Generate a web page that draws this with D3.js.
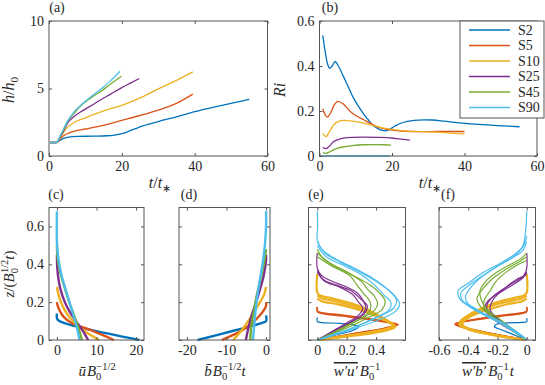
<!DOCTYPE html>
<html>
<head>
<meta charset="utf-8">
<script src="https://cdn.jsdelivr.net/npm/d3@7"></script>
<style>
  body { margin: 0; background: #fff; }
</style>
</head>
<body>
<svg id="fig" width="545" height="385"></svg>
<script>
const serif = "'Liberation Serif', 'Times New Roman', serif";

// cases
const caseNames = ["S2", "S5", "S10", "S25", "S45", "S90"];
const caseColors = ["#0072BD", "#D95319", "#EDB120", "#7E2F8E", "#77AC30", "#4DBEEE"];

// (a) h/h0 vs t/t*
const hTime = [
  [0.3, 2, 3, 4, 5, 8, 12, 16, 18, 20, 23, 26, 30, 35, 40, 45, 50, 55],
  [0.3, 2, 3, 4, 5, 7, 10, 13, 16, 20, 25, 30, 35, 39.5],
  [0.3, 2, 3, 4, 5, 7, 9.4, 12, 15, 20, 25, 29.6, 35, 39.5],
  [0.3, 2, 3, 4, 5, 7, 9.4, 12, 14, 17, 20, 22.5, 24.8],
  [0.3, 2, 3, 4, 5, 7, 9.4, 12, 14, 17, 19.9],
  [0.3, 2, 3, 4, 5, 7, 9.4, 12, 14, 17, 19.5]
];
const hVal = [
  [1, 1, 1.15, 1.3, 1.38, 1.45, 1.47, 1.5, 1.55, 1.65, 1.95, 2.25, 2.55, 2.9, 3.28, 3.6, 3.9, 4.2],
  [1, 1, 1.25, 1.5, 1.65, 1.85, 2.0, 2.15, 2.35, 2.64, 3.0, 3.4, 3.9, 4.58],
  [1, 1, 1.3, 1.75, 2.1, 2.5, 2.77, 3.05, 3.35, 3.75, 4.3, 4.92, 5.6, 6.23],
  [1, 1, 1.35, 1.85, 2.4, 2.95, 3.38, 3.8, 4.13, 4.6, 5.07, 5.42, 5.74],
  [1, 1, 1.4, 1.95, 2.5, 3.2, 3.88, 4.4, 4.74, 5.35, 5.91],
  [1, 1, 1.45, 2.0, 2.55, 3.3, 3.93, 4.5, 4.9, 5.6, 6.28]
];

// (b) Ri vs t/t*
const riTime = [
  [0.9, 1.5, 2.2, 2.9, 3.5, 4.3, 5.2, 6.6, 8, 9.4, 11, 12.2, 13.5, 14.5, 15.8, 17, 18.1, 19.5, 21, 23.2, 26, 28.7, 31, 34.3, 38, 41.6, 45, 49, 52, 55.2],
  [0.9, 1.5, 2.2, 3, 4, 5.1, 6.5, 8.5, 10, 12.2, 14, 15.8, 17.5, 19.5, 23.2, 28, 32.4, 36, 40],
  [0.9, 1.8, 2.8, 3.9, 5, 6.6, 9, 12.2, 15, 17.7, 20, 23.2, 28, 32.4, 36, 40],
  [0.9, 1.8, 2.8, 3.9, 5, 6.6, 9, 12, 16, 20, 22, 24.9],
  [0.9, 1.8, 3, 4.8, 6.5, 9, 12, 15, 18, 19.7],
  [0.5, 10, 19.5]
];
const riVal = [
  [0.536, 0.47, 0.41, 0.39, 0.40, 0.42, 0.40, 0.354, 0.305, 0.257, 0.215, 0.186, 0.16, 0.14, 0.125, 0.115, 0.112, 0.12, 0.135, 0.15, 0.158, 0.161, 0.16, 0.155, 0.148, 0.143, 0.139, 0.135, 0.133, 0.13],
  [0.21, 0.185, 0.173, 0.19, 0.225, 0.243, 0.232, 0.198, 0.18, 0.161, 0.145, 0.131, 0.122, 0.116, 0.11, 0.108, 0.109, 0.109, 0.109],
  [0.10, 0.086, 0.11, 0.138, 0.152, 0.158, 0.155, 0.146, 0.135, 0.124, 0.118, 0.112, 0.108, 0.106, 0.102, 0.098],
  [0.037, 0.033, 0.045, 0.064, 0.072, 0.079, 0.083, 0.084, 0.083, 0.08, 0.076, 0.071],
  [0.015, 0.012, 0.02, 0.034, 0.04, 0.046, 0.05, 0.051, 0.05, 0.048],
  [0, 0, 0]
];

// (c) mean velocity profiles [u, z]
const uProf = [
  [[20.8, 0], [0.6, 0.1], [0, 0.115], [0, 0.14]],
  [[14.4, 0], [8.4, 0.053], [3.7, 0.09], [1.6, 0.125], [0.7, 0.155], [0.2, 0.18], [0, 0.2]],
  [[10.7, 0], [7.5, 0.04], [4.5, 0.09], [2.5, 0.14], [1.2, 0.19], [0.4, 0.24], [0, 0.28]],
  [[7.9, 0], [6.5, 0.05], [4.8, 0.1], [3.2, 0.15], [2, 0.2], [1.0, 0.26], [0.4, 0.32], [0.1, 0.38], [0, 0.45]],
  [[6.3, 0], [5.5, 0.06], [4.5, 0.12], [3.3, 0.19], [2.2, 0.26], [1.2, 0.33], [0.5, 0.39], [0.1, 0.45], [0, 0.5]],
  [[5.7, 0], [5.1, 0.06], [4.3, 0.12], [3.3, 0.19], [2.3, 0.26], [1.3, 0.33], [0.6, 0.4], [0.2, 0.46], [0, 0.52], [0, 0.68]]
];

// (d) mean buoyancy profiles [b, z]
const bProf = [
  [[-17.3, 0], [-8, 0.05], [-1, 0.09], [0, 0.1], [0, 0.13]],
  [[-11.2, 0], [-7, 0.04], [-4, 0.08], [-2, 0.12], [-0.8, 0.15], [0, 0.18], [0, 0.2]],
  [[-8.3, 0], [-6.2, 0.05], [-4.5, 0.1], [-3, 0.15], [-1.5, 0.2], [-0.5, 0.24], [0, 0.28]],
  [[-5.1, 0], [-4.4, 0.07], [-3.5, 0.14], [-2.5, 0.2], [-1.5, 0.27], [-0.6, 0.34], [0, 0.42], [0, 0.45]],
  [[-4.0, 0], [-3.7, 0.08], [-3.1, 0.15], [-2.3, 0.24], [-1.3, 0.33], [-0.4, 0.42], [0, 0.48]],
  [[-3.3, 0], [-2.9, 0.1], [-2.4, 0.2], [-1.7, 0.3], [-0.9, 0.4], [-0.3, 0.5], [0, 0.6], [0, 0.68]]
];

// (e) momentum flux profiles, several snapshots per case [value, z]
const wuProf = [
  [
    [[0, 0.12], [0, 0.097], [0.03, 0.092], [0.15, 0.088], [0.24, 0.08], [0.28, 0.07], [0.24, 0.05], [0.12, 0.025], [0, 0]]
  ],
  [
    [[0, 0.175], [0, 0.152], [0.03, 0.143], [0.15, 0.133], [0.3, 0.118], [0.42, 0.103], [0.51, 0.09], [0.55, 0.08], [0.46, 0.06], [0.3, 0.04], [0.12, 0.015], [0, 0]],
    [[0, 0.148], [0.05, 0.138], [0.2, 0.125], [0.35, 0.108], [0.47, 0.094], [0.53, 0.08], [0.42, 0.055], [0.22, 0.028], [0, 0]]
  ],
  [
    [[0, 0.35], [0, 0.25], [0.02, 0.235], [0.1, 0.22], [0.2, 0.2], [0.3, 0.175], [0.38, 0.145], [0.45, 0.115], [0.5, 0.088], [0.51, 0.07], [0.4, 0.047], [0.2, 0.022], [0, 0]],
    [[0, 0.235], [0.03, 0.22], [0.12, 0.205], [0.22, 0.185], [0.32, 0.16], [0.41, 0.13], [0.48, 0.1], [0.52, 0.08], [0.46, 0.055], [0.26, 0.027], [0, 0]],
    [[0, 0.22], [0.03, 0.205], [0.13, 0.19], [0.24, 0.17], [0.34, 0.145], [0.43, 0.115], [0.5, 0.088], [0.53, 0.07], [0.44, 0.045], [0.22, 0.02], [0, 0]]
  ],
  [
    [[0, 0.46], [0, 0.38], [0.03, 0.34], [0.1, 0.31], [0.2, 0.28], [0.27, 0.25], [0.31, 0.21], [0.33, 0.17], [0.3, 0.13], [0.22, 0.09], [0.12, 0.05], [0.04, 0.015], [0, 0]],
    [[0, 0.37], [0.04, 0.32], [0.13, 0.29], [0.23, 0.26], [0.29, 0.22], [0.34, 0.18], [0.32, 0.14], [0.24, 0.1], [0.13, 0.055], [0, 0]],
    [[0, 0.36], [0.05, 0.31], [0.15, 0.28], [0.24, 0.24], [0.28, 0.2], [0.31, 0.17], [0.28, 0.13], [0.2, 0.09], [0.1, 0.045], [0, 0]]
  ],
  [
    [[0, 0.48], [0.04, 0.43], [0.14, 0.38], [0.27, 0.33], [0.36, 0.29], [0.42, 0.25], [0.46, 0.21], [0.44, 0.16], [0.35, 0.12], [0.22, 0.07], [0.09, 0.03], [0, 0]],
    [[0, 0.46], [0.08, 0.41], [0.2, 0.36], [0.3, 0.31], [0.34, 0.27], [0.39, 0.23], [0.41, 0.19], [0.38, 0.15], [0.29, 0.11], [0.17, 0.06], [0.06, 0.02], [0, 0]],
    [[0, 0.44], [0.1, 0.39], [0.22, 0.34], [0.27, 0.29], [0.31, 0.25], [0.36, 0.2], [0.36, 0.16], [0.31, 0.12], [0.21, 0.08], [0.1, 0.035], [0, 0]]
  ],
  [
    [[0, 0.68], [0.002, 0.6], [0, 0.53], [0.03, 0.48], [0.12, 0.43], [0.25, 0.38], [0.37, 0.33], [0.46, 0.28], [0.53, 0.23], [0.56, 0.19], [0.53, 0.15], [0.43, 0.11], [0.29, 0.07], [0.13, 0.03], [0, 0]],
    [[0, 0.52], [0.05, 0.46], [0.16, 0.41], [0.29, 0.36], [0.40, 0.31], [0.49, 0.26], [0.54, 0.21], [0.52, 0.17], [0.44, 0.13], [0.32, 0.09], [0.16, 0.04], [0, 0]],
    [[0, 0.5], [0.06, 0.44], [0.19, 0.39], [0.31, 0.34], [0.39, 0.29], [0.45, 0.24], [0.5, 0.2], [0.49, 0.16], [0.40, 0.12], [0.26, 0.07], [0.11, 0.03], [0, 0]]
  ]
];

// (f) buoyancy flux profiles [value, z]
const wbProf = [
  [
    [[0, 0.115], [0, 0.097], [-0.03, 0.093], [-0.13, 0.09], [-0.21, 0.082], [-0.22, 0.07], [-0.16, 0.05], [-0.08, 0.025], [0, 0]]
  ],
  [
    [[0, 0.175], [0, 0.152], [-0.03, 0.143], [-0.14, 0.133], [-0.27, 0.12], [-0.38, 0.105], [-0.46, 0.092], [-0.49, 0.083], [-0.45, 0.07], [-0.32, 0.045], [-0.14, 0.018], [0, 0]],
    [[0, 0.148], [-0.05, 0.138], [-0.18, 0.126], [-0.32, 0.11], [-0.43, 0.097], [-0.48, 0.085], [-0.42, 0.065], [-0.25, 0.035], [0, 0]]
  ],
  [
    [[0, 0.35], [0, 0.25], [-0.02, 0.235], [-0.1, 0.22], [-0.2, 0.2], [-0.3, 0.17], [-0.38, 0.14], [-0.44, 0.11], [-0.46, 0.088], [-0.4, 0.062], [-0.28, 0.037], [-0.12, 0.014], [0, 0]],
    [[0, 0.235], [-0.03, 0.22], [-0.12, 0.205], [-0.22, 0.185], [-0.32, 0.155], [-0.4, 0.125], [-0.45, 0.097], [-0.46, 0.08], [-0.38, 0.052], [-0.2, 0.022], [0, 0]],
    [[0, 0.22], [-0.03, 0.205], [-0.13, 0.19], [-0.24, 0.165], [-0.34, 0.14], [-0.41, 0.112], [-0.44, 0.088], [-0.41, 0.062], [-0.3, 0.037], [-0.12, 0.012], [0, 0]]
  ],
  [
    [[0, 0.46], [0, 0.38], [-0.02, 0.34], [-0.07, 0.32], [-0.16, 0.27], [-0.23, 0.23], [-0.27, 0.19], [-0.27, 0.16], [-0.22, 0.12], [-0.14, 0.08], [-0.06, 0.035], [0, 0]],
    [[0, 0.36], [-0.03, 0.33], [-0.1, 0.3], [-0.19, 0.25], [-0.26, 0.21], [-0.29, 0.17], [-0.26, 0.13], [-0.17, 0.08], [-0.07, 0.035], [0, 0]],
    [[0, 0.35], [-0.04, 0.32], [-0.12, 0.28], [-0.2, 0.24], [-0.24, 0.2], [-0.25, 0.16], [-0.21, 0.12], [-0.13, 0.075], [-0.05, 0.03], [0, 0]]
  ],
  [
    [[0, 0.46], [-0.04, 0.43], [-0.11, 0.4], [-0.2, 0.36], [-0.28, 0.31], [-0.32, 0.26], [-0.31, 0.21], [-0.27, 0.16], [-0.2, 0.12], [-0.12, 0.07], [-0.05, 0.03], [0, 0]],
    [[0, 0.44], [-0.06, 0.41], [-0.15, 0.37], [-0.24, 0.32], [-0.3, 0.27], [-0.34, 0.22], [-0.32, 0.18], [-0.25, 0.13], [-0.17, 0.09], [-0.08, 0.04], [0, 0]],
    [[0, 0.42], [-0.08, 0.39], [-0.17, 0.34], [-0.22, 0.3], [-0.25, 0.26], [-0.29, 0.21], [-0.29, 0.17], [-0.24, 0.13], [-0.15, 0.08], [-0.06, 0.03], [0, 0]]
  ],
  [
    [[0, 0.68], [-0.005, 0.6], [-0.015, 0.53], [-0.03, 0.49], [-0.09, 0.44], [-0.2, 0.39], [-0.32, 0.33], [-0.41, 0.28], [-0.45, 0.25], [-0.44, 0.21], [-0.37, 0.175], [-0.27, 0.13], [-0.16, 0.09], [-0.07, 0.045], [0, 0]],
    [[0, 0.55], [-0.02, 0.5], [-0.07, 0.46], [-0.17, 0.41], [-0.29, 0.36], [-0.4, 0.3], [-0.47, 0.26], [-0.46, 0.22], [-0.4, 0.18], [-0.3, 0.135], [-0.18, 0.09], [-0.08, 0.045], [0, 0]],
    [[0, 0.52], [-0.03, 0.47], [-0.11, 0.43], [-0.22, 0.38], [-0.33, 0.32], [-0.39, 0.27], [-0.42, 0.23], [-0.4, 0.19], [-0.33, 0.15], [-0.23, 0.11], [-0.12, 0.06], [0, 0]]
  ]
];

const svg = d3.select("#fig").attr("font-family", serif);
const axisColor = "#555";
const tickFont = 14;

// make scales for a panel box
function makePanel(box, xd, yd) {
  const x = d3.scaleLinear().domain(xd).range([box.x0, box.x1]);
  const y = d3.scaleLinear().domain(yd).range([box.y1, box.y0]);
  return { box, x, y, g: svg.append("g") };
}

// frame with inward ticks on all four sides
function drawFrame(p, xticks, yticks, showX, showY) {
  const { box, x, y } = p;
  const fmt = d => String(d);
  const mk = (ax, tr, vals, lab) => {
    const a = svg.append("g").attr("transform", tr)
      .call(ax.tickValues(vals).tickSize(-3).tickPadding(5).tickFormat(lab ? fmt : () => ""));
    a.attr("font-family", serif).attr("font-size", tickFont);
    a.select(".domain").remove();
    a.selectAll("line").attr("stroke", axisColor);
    a.selectAll("text").attr("fill", "#262626");
    return a;
  };
  mk(d3.axisBottom(x), `translate(0,${box.y1})`, xticks, showX);
  mk(d3.axisTop(x), `translate(0,${box.y0})`, xticks, false);
  mk(d3.axisLeft(y), `translate(${box.x0},0)`, yticks, showY);
  mk(d3.axisRight(y), `translate(${box.x1},0)`, yticks, false);
  svg.append("rect")
    .attr("x", box.x0).attr("y", box.y0)
    .attr("width", box.x1 - box.x0).attr("height", box.y1 - box.y0)
    .attr("fill", "none").attr("stroke", axisColor).attr("stroke-width", 1);
}

// text with italic letters, subscripts and superscripts
function mathLabel(x, y, parts, rotate, size) {
  size = size || 15;
  const t = svg.append("text").attr("text-anchor", "middle").attr("font-size", size)
    .attr("font-family", serif).attr("fill", "#262626")
    .attr("transform", `translate(${x},${y})` + (rotate ? " rotate(-90)" : ""));
  let shift = 0;
  parts.forEach(p => {
    const s = t.append("tspan").text(p.s);
    if (p.i) s.attr("font-style", "italic");
    const target = p.sub ? 3.5 : p.sup ? -6 : 0;
    if (target !== shift) { s.attr("dy", target - shift); shift = target; }
    if (p.sub || p.sup) s.attr("font-size", size * 0.7);
    if (p.dx) s.attr("dx", p.dx);
    if (p.over) s.style("text-decoration", "overline");
  });
  return t;
}

function panelTag(x, y, s) {
  svg.append("text").attr("x", x).attr("y", y).attr("text-anchor", "middle")
    .attr("font-family", serif).attr("font-size", 14).attr("fill", "#262626").text(s);
}

// ---------- (a) ----------
const pa = makePanel({ x0: 49, x1: 267.5, y0: 21, y1: 156 }, [0, 60], [0, 10]);
const lineA = d3.line().x(d => pa.x(d[0])).y(d => pa.y(d[1])).curve(d3.curveMonotoneX);
hTime.forEach((ts, i) => {
  pa.g.append("path").attr("d", lineA(ts.map((t, k) => [t, hVal[i][k]])))
    .attr("fill", "none").attr("stroke", caseColors[i]).attr("stroke-width", 1.3);
});
drawFrame(pa, [0, 20, 40, 60], [0, 5, 10], true, true);
mathLabel(14, 90, [{ s: "h", i: 1 }, { s: "/" }, { s: "h", i: 1 }, { s: "0", sub: 1 }], true, 16);
mathLabel(160, 188, [{ s: "t", i: 1 }, { s: "/" }, { s: "t", i: 1 }, { s: "∗", sub: 1 }], false, 16);
panelTag(57, 12, "(a)");

// ---------- (b) ----------
const pb = makePanel({ x0: 319.5, x1: 537, y0: 21, y1: 156 }, [0, 60], [0, 0.6]);
const lineB = d3.line().x(d => pb.x(d[0])).y(d => pb.y(d[1])).curve(d3.curveMonotoneX);
riTime.forEach((ts, i) => {
  pb.g.append("path").attr("d", lineB(ts.map((t, k) => [t, riVal[i][k]])))
    .attr("fill", "none").attr("stroke", caseColors[i]).attr("stroke-width", 1.3);
});
drawFrame(pb, [0, 20, 40, 60], [0, 0.2, 0.4, 0.6], true, true);
mathLabel(285, 90, [{ s: "Ri", i: 1 }], true, 16);
mathLabel(430, 188, [{ s: "t", i: 1 }, { s: "/" }, { s: "t", i: 1 }, { s: "∗", sub: 1 }], false, 16);
panelTag(330, 12, "(b)");

// legend
const leg = svg.append("g");
leg.append("rect").attr("x", 460).attr("y", 21).attr("width", 84).attr("height", 97)
  .attr("fill", "#fff").attr("stroke", axisColor);
caseNames.forEach((n, i) => {
  const yy = 30 + i * 15.5;
  leg.append("line").attr("x1", 469).attr("x2", 510).attr("y1", yy).attr("y2", yy)
    .attr("stroke", caseColors[i]).attr("stroke-width", 1.3);
  leg.append("text").attr("x", 518).attr("y", yy + 4.5).attr("font-size", 14)
    .attr("font-family", serif).attr("fill", "#262626").text(n);
});

// ---------- bottom profile panels ----------
const zd = [0, 0.7];
const zticks = [0, 0.2, 0.4, 0.6];
const by0 = 207.5, by1 = 340;
const fluxWidths = [1.2, 1.8, 2.2, 1.2, 1.2, 1.2];

function drawProfiles(p, profs, width) {
  const ln = d3.line().x(d => p.x(d[0])).y(d => p.y(d[1])).curve(d3.curveCatmullRom.alpha(0.5));
  profs.forEach((pr, i) => {
    p.g.append("path").attr("d", ln(pr)).attr("fill", "none")
      .attr("stroke", caseColors[i]).attr("stroke-width", width)
      .attr("stroke-linejoin", "round");
  });
}
function drawProfileSets(p, sets) {
  const ln = d3.line().x(d => p.x(d[0])).y(d => p.y(d[1])).curve(d3.curveCatmullRom.alpha(0.5));
  sets.forEach((set, i) => {
    set.forEach(pr => {
      p.g.append("path").attr("d", ln(pr)).attr("fill", "none")
        .attr("stroke", caseColors[i]).attr("stroke-width", fluxWidths[i]);
    });
  });
}

// (c)
const pc = makePanel({ x0: 49, x1: 144, y0: by0, y1: by1 }, [-2, 22], zd);
drawProfiles(pc, uProf, 2.4);
drawFrame(pc, [0, 10, 20], zticks, true, true);
mathLabel(14, 274, [{ s: "z", i: 1 }, { s: "/(" }, { s: "B", i: 1 }, { s: "0", sub: 1 }, { s: "1/2", sup: 1, dx: -5 }, { s: "t", i: 1 }, { s: ")" }], true);
mathLabel(97, 376, [{ s: "ū", i: 1 }, { s: "B", i: 1, dx: 1 }, { s: "0", sub: 1 }, { s: "−1/2", sup: 1, dx: -5 }]);
panelTag(56, 199, "(c)");

// (d)
const pd = makePanel({ x0: 179, x1: 270, y0: by0, y1: by1 }, [-22, 1], zd);
drawProfiles(pd, bProf, 2.4);
drawFrame(pd, [-20, -10, 0], zticks, true, false);
mathLabel(225, 376, [{ s: "b̄", i: 1 }, { s: "B", i: 1, dx: 1 }, { s: "0", sub: 1 }, { s: "−1/2", sup: 1, dx: -5 }, { s: "t", i: 1 }]);
panelTag(189, 199, "(d)");

// (e)
const pe = makePanel({ x0: 308.5, x1: 405.5, y0: by0, y1: by1 }, [-0.06, 0.6], zd);
drawProfileSets(pe, wuProf);
drawFrame(pe, [0, 0.2, 0.4], zticks, true, false);
mathLabel(357, 376, [{ s: "w′u′", i: 1, over: 1 }, { s: "B", i: 1, dx: 2 }, { s: "0", sub: 1 }, { s: "−1", sup: 1, dx: -5 }]);
panelTag(316, 199, "(e)");

// (f)
const pf = makePanel({ x0: 439, x1: 535.5, y0: by0, y1: by1 }, [-0.6, 0.06], zd);
drawProfileSets(pf, wbProf);
drawFrame(pf, [-0.6, -0.4, -0.2, 0], zticks, true, false);
mathLabel(488, 376, [{ s: "w′b′", i: 1, over: 1 }, { s: "B", i: 1, dx: 2 }, { s: "0", sub: 1 }, { s: "−1", sup: 1, dx: -5 }, { s: "t", i: 1, dx: 1 }]);
panelTag(448, 199, "(f)");
</script>
</body>
</html>
